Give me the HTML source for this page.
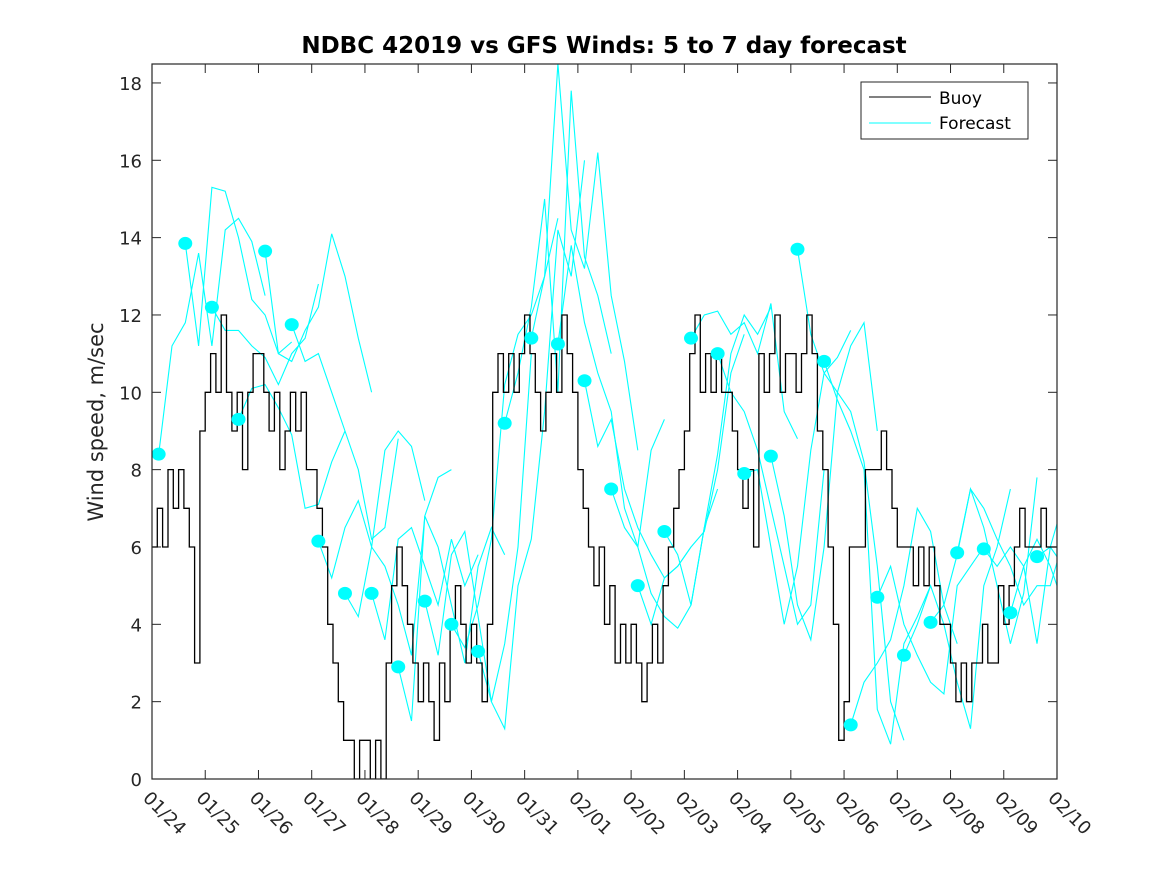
<!DOCTYPE html>
<html><head><meta charset="utf-8"><style>
html,body{margin:0;padding:0;background:#fff;}
svg{display:block;font-family:"DejaVu Sans","Liberation Sans",sans-serif;}
</style></head><body>
<svg id="chart" width="1167" height="875" viewBox="0 0 1167 875" xmlns="http://www.w3.org/2000/svg">
<rect x="0" y="0" width="1167" height="875" fill="#fff"/>
<text x="604" y="53" text-anchor="middle" font-size="23" font-weight="bold" fill="#000">NDBC 42019 vs GFS Winds: 5 to 7 day forecast</text>
<text transform="translate(103,422) rotate(-90)" text-anchor="middle" font-size="21" fill="#262626">Wind speed, m/sec</text>
<defs><clipPath id="plotclip"><rect x="152" y="64" width="905" height="715"/></clipPath></defs>
<g id="xticks"></g>
<g id="yticks"></g>
<g id="series" clip-path="url(#plotclip)"></g>
<rect x="152" y="64" width="905" height="715" fill="none" stroke="#262626" stroke-width="1.2"/>
<g>
<rect x="861" y="82" width="167" height="57" fill="#fff" stroke="#262626" stroke-width="1"/>
<line x1="869" y1="97" x2="931" y2="97" stroke="#000" stroke-width="1"/>
<text x="939" y="104" font-size="17" fill="#000">Buoy</text>
<line x1="869" y1="123" x2="931" y2="123" stroke="#00ffff" stroke-width="1"/>
<text x="939" y="129" font-size="17" fill="#000">Forecast</text>
</g>
</svg>
<script>
const xTickLabels = ["01/24","01/25","01/26","01/27","01/28","01/29","01/30","01/31","02/01","02/02","02/03","02/04","02/05","02/06","02/07","02/08","02/09","02/10"];
const yTicks = [0,2,4,6,8,10,12,14,16,18];
const buoyStep = 0.1;
const buoy = [
6,7,6,8,7,8,7,6,3,9,
10,11,10,12,10,9,10,8,10,11,
11,10,9,10,8,9,10,9,10,8,
8,7,6,4,3,2,1,1,0,1,
1,0,1,0,3,5,6,5,4,3,
2,3,2,1,3,2,4,5,4,3,
4,3,2,4,10,11,10,11,10,11,
12,11,10,9,10,11,10,12,11,10,
8,7,6,5,6,4,5,3,4,3,
4,3,2,3,4,3,5,6,7,8,
9,11,12,10,11,10,11,10,10,9,
8,7,8,6,11,10,11,12,10,11,
11,10,11,12,11,9,8,6,4,1,
2,6,6,6,8,8,8,9,8,7,
6,6,6,5,6,5,6,5,4,4,
3,2,3,2,3,3,4,3,3,5,
4,5,6,7,6,6,6,7,6,6,
6];
const runStarts = [0.125,0.625,1.125,1.625,2.125,2.625,3.125,3.625,4.125,4.625,5.125,5.625,6.125,6.625,7.125,7.625,8.125,8.625,9.125,9.625,10.125,10.625,11.125,11.625,12.125,12.625,13.125,13.625,14.125,14.625,15.125,15.625,16.125,16.625];
const runStep = 0.25;
const forecastRuns = [
[8.4,11.2,11.8,13.6,11.2,14.2,14.5,13.9,12.5],
[13.85,11.2,15.3,15.2,14.0,12.4,12.0,11.0,11.3],
[12.2,11.6,11.6,11.2,10.9,10.2,11.0,11.4,12.8],
[9.3,10.1,10.2,9.6,8.9,7.0,7.1,8.2,9.0],
[13.65,11.0,10.8,11.6,12.2,14.1,13.0,11.4,10.0],
[11.75,10.8,11.0,10.0,9.0,8.0,6.2,6.5,8.8],
[6.15,5.2,6.5,7.2,6.0,8.5,9.0,8.6,7.2],
[4.8,4.2,6.0,5.5,4.5,3.2,6.8,7.8,8.0],
[4.8,3.6,6.2,6.5,5.5,4.5,6.2,5.0,5.8],
[2.9,1.5,6.8,6.0,4.5,3.0,5.5,6.5,5.8],
[4.6,3.2,5.8,6.4,4.2,2.0,3.5,6.0,11.0],
[4.0,3.4,4.5,6.2,10.2,11.5,12.0,13.0,14.5],
[3.3,2.0,1.3,5.0,6.2,9.5,14.2,13.0,16.0],
[9.2,10.5,12.2,15.0,10.0,17.8,13.5,12.5,11.0],
[11.4,13.0,18.5,14.2,13.2,16.2,12.5,10.8,8.5],
[11.25,13.8,11.8,10.5,9.5,7.0,6.0,8.5,9.3],
[10.3,8.6,9.3,7.5,6.5,5.8,5.2,5.5,6.0],
[7.5,6.5,6.0,4.8,4.2,3.9,4.5,6.5,7.5],
[5.0,4.0,5.2,5.5,6.0,6.4,8.0,10.5,11.5],
[6.4,5.8,4.5,6.5,8.4,11.0,12.0,11.5,12.2],
[11.4,12.0,12.1,11.5,11.8,11.0,12.3,9.5,8.8],
[11.0,10.0,9.5,8.5,7.0,5.5,4.0,4.5,8.0],
[7.9,8.0,6.0,4.0,5.5,8.5,10.5,10.9,11.6],
[8.35,6.8,4.5,3.6,6.0,10.0,11.2,11.8,9.0],
[13.7,11.5,10.5,10.0,9.5,8.2,5.5,2.0,1.0],
[10.8,9.8,9.0,8.0,1.8,0.9,3.5,4.2,5.0],
[1.4,2.5,3.0,3.6,5.0,7.0,6.4,4.5,3.5],
[4.7,5.5,4.0,3.2,2.5,2.2,5.0,5.5,6.0],
[3.2,4.0,5.0,4.0,2.5,1.3,5.0,6.0,7.5],
[4.05,4.5,5.8,7.5,6.5,5.0,3.5,4.8,7.8],
[5.85,7.5,7.0,6.2,5.5,4.5,5.0,5.0,6.2],
[5.95,5.5,6.0,5.5,3.5,6.0,7.2,6.6,5.0],
[4.3,5.5,6.2,5.5,4.5,1.5,3.8,5.5,6.7],
[5.75,6.0,5.5,4.5,4.0]
];
const NS = "http://www.w3.org/2000/svg";
const X0 = 152, X1 = 1057, Y0 = 779, Y1 = 64;
const dMax = 17, vMax = 18.49;
function xs(d){ return X0 + (X1 - X0) * d / dMax; }
function ys(v){ return Y0 - (Y0 - Y1) * v / vMax; }
function mk(tag, attrs, parent){ const e = document.createElementNS(NS, tag); for (const k in attrs) e.setAttribute(k, attrs[k]); parent.appendChild(e); return e; }
const gx = document.getElementById('xticks');
const gy = document.getElementById('yticks');
const gs = document.getElementById('series');
xTickLabels.forEach((lab, i) => {
  const x = xs(i);
  if (i > 0 && i < xTickLabels.length - 1) {
    const t1 = mk('line', {x1:x, y1:Y0, x2:x, y2:Y0-9, stroke:'#262626', 'stroke-width':1}, gx);
    
    
    const t2 = mk('line', {x1:x, y1:Y1, x2:x, y2:Y1+9, stroke:'#262626', 'stroke-width':1}, gx);
    
    
  }
  const tx = mk('text', {transform:'translate(' + (x - 10) + ',' + 799 + ') rotate(45)', 'font-size':18, fill:'#262626'}, gx);
  tx.textContent = lab;
  
  
});
yTicks.forEach(v => {
  const y = ys(v);
  if (v > 0) {
    const t1 = mk('line', {x1:X0, y1:y, x2:X0+9, y2:y, stroke:'#262626', 'stroke-width':1}, gy);
    
    
    const t2 = mk('line', {x1:X1, y1:y, x2:X1-9, y2:y, stroke:'#262626', 'stroke-width':1}, gy);
    
    
  }
  const tx = mk('text', {x:X0-10, y:y+7, 'text-anchor':'end', 'font-size':18, fill:'#262626'}, gy);
  tx.textContent = String(v);
  
  
});
forecastRuns.forEach((run, k) => {
  const pts = run.map((v, j) => xs(runStarts[k] + j * runStep).toFixed(1) + ',' + ys(v).toFixed(1)).join(' ');
  const pl = mk('polyline', {points:pts, fill:'none', stroke:'#00ffff', 'stroke-width':1.1}, gs);
  
  
});
let bp = [];
buoy.forEach((v, i) => {
  const x = xs(i * buoyStep), y = ys(v);
  if (i > 0) bp.push(x.toFixed(1) + ',' + ys(buoy[i-1]).toFixed(1));
  bp.push(x.toFixed(1) + ',' + y.toFixed(1));
});
const bl = mk('polyline', {points:bp.join(' '), fill:'none', stroke:'#000', 'stroke-width':1.3}, gs);


forecastRuns.forEach((run, k) => {
  const c = mk('ellipse', {cx:xs(runStarts[k]), cy:ys(run[0]), rx:7, ry:6.5, fill:'#00ffff'}, gs);
  
  
});
</script>
</body></html>
